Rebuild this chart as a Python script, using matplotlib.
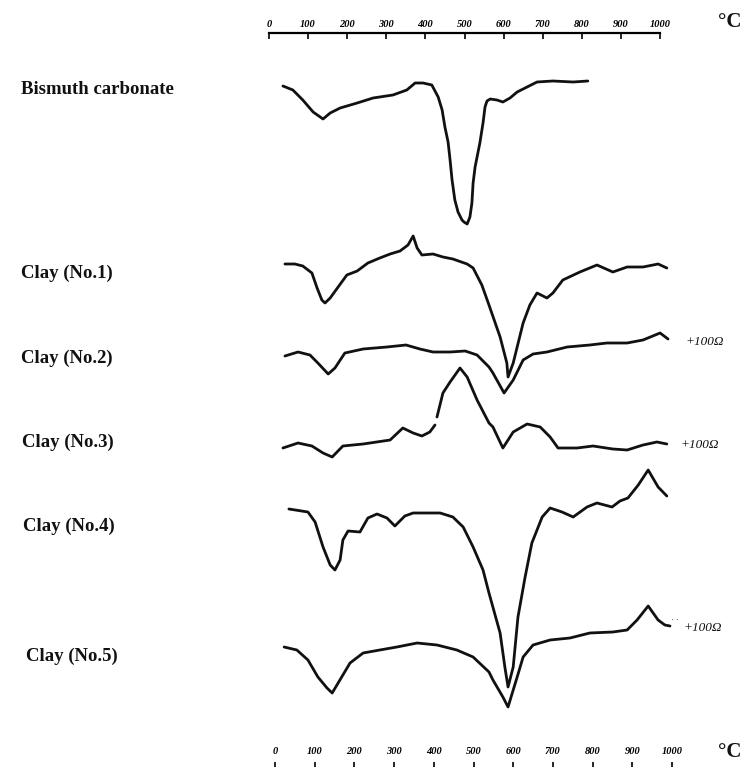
import numpy as np
import matplotlib
matplotlib.use("Agg")
import matplotlib.pyplot as plt

# ---------------- data (temperature in °C, signal in arbitrary deflection units, up = exothermic) -------------
names = ["Bismuth carbonate", "Clay (No.1)", "Clay (No.2)", "Clay (No.3)", "Clay (No.4)", "Clay (No.5)"]

bi_T = [20, 45, 70, 96, 121, 139, 164, 207, 247, 297, 332, 353, 373, 395, 411, 421, 428, 436, 441, 446,
        453, 461, 471, 476, 484, 491, 496, 499, 504, 509, 516, 524, 529, 534, 542, 559, 574, 592, 610,
        635, 660, 700, 751, 788]
bi_S = [0, -4, -14, -26, -33, -27, -22, -17, -12, -9, -4, 3, 3, 1, -11, -24, -41, -56, -74, -94,
        -114, -126, -134, -136, -138, -131, -117, -97, -81, -71, -57, -37, -21, -15, -13, -14, -16, -12, -6,
        -1, 4, 5, 4, 5]

c1_T = [25, 50, 70, 93, 106, 118, 126, 139, 159, 181, 207, 234, 264, 290, 315, 335, 348, 358, 370, 398,
        423, 448, 484, 499, 521, 539, 567, 584, 587, 600, 625, 642, 660, 685, 700, 725, 768, 811, 851,
        887, 927, 965, 987]
c1_S = [0, 0, -2, -9, -24, -36, -39, -34, -23, -11, -7, 1, 6, 10, 13, 19, 28, 16, 9, 10,
        7, 5, 0, -4, -21, -41, -73, -99, -113, -99, -59, -41, -29, -34, -29, -16, -8, -1, -8,
        -3, -3, 0, -4]

c2_T = [25, 58, 88, 108, 134, 151, 176, 222, 282, 330, 365, 398, 441, 479, 509, 539, 549, 577, 600,
        625, 650, 685, 736, 793, 836, 887, 927, 970, 990]
c2_S = [0, 4, 1, -7, -18, -12, 3, 7, 9, 11, 7, 4, 4, 5, 1, -11, -17, -37, -24,
        -4, 2, 4, 9, 11, 13, 13, 16, 23, 17]

c3_T = [20, 58, 93, 121, 144, 171, 222, 290, 322, 348, 370, 390, 403, np.nan, 408, 423, 441, 466, 484,
        509, 539, 549, 574, 600, 635, 668, 693, 713, 761, 801, 851, 887, 927, 962, 987]
c3_S = [0, 5, 2, -5, -9, 2, 4, 8, 20, 15, 12, 16, 23, np.nan, 31, 55, 66, 80, 71,
        48, 25, 21, 0, 16, 24, 21, 11, 0, 0, 2, -1, -2, 3, 6, 4]

c4_T = [35, 83, 101, 121, 139, 151, 164, 171, 184, 214, 234, 257, 282, 302, 327, 348, 416, 448, 474,
        499, 524, 539, 567, 579, 587, 600, 612, 630, 647, 673, 693, 723, 751, 786, 811, 849, 869, 889,
        915, 940, 965, 987]
c4_S = [0, -3, -13, -38, -56, -61, -51, -31, -22, -23, -9, -5, -9, -17, -7, -4, -4, -8, -18,
        -38, -61, -84, -124, -158, -178, -158, -108, -68, -34, -8, 1, -3, -8, 2, 6, 2, 8, 11,
        24, 39, 22, 13]

c5_T = [23, 55, 83, 108, 131, 144, 159, 189, 222, 264, 307, 358, 408, 458, 499, 539, 549, 574, 587,
        610, 625, 650, 693, 743, 793, 851, 887, 912, 940, 965, 982, 995]
c5_S = [0, -3, -13, -30, -41, -46, -36, -16, -6, -3, 0, 4, 2, -3, -10, -25, -33, -50, -60,
        -30, -10, 2, 7, 9, 14, 15, 17, 27, 41, 27, 22, 21]

scale_ticks = [0, 100, 200, 300, 400, 500, 600, 700, 800, 900, 1000]
top_labels = ["0", "100", "200", "300", "400", "500", "600", "700", "800", "900", "1000"]
bottom_labels = ["0", "100", "200", "300", "400", "500", "600", "700", "800", "900", "1000"]
resistor_note = "+100Ω"

curves_T = [bi_T, c1_T, c2_T, c3_T, c4_T, c5_T]
curves_S = [bi_S, c1_S, c2_S, c3_S, c4_S, c5_S]

# ---------------- layout ----------------
W, H = 744, 767
fig = plt.figure(figsize=(W / 100, H / 100), dpi=100)
fig.patch.set_facecolor("white")

# main drawing axes covering the whole figure; x in °C (bottom scale), y in display units (up)
x0_px, px_per_deg = 275.0, 0.397
ax = fig.add_axes([0, 0, 1, 1])
ax.set_xlim(-x0_px / px_per_deg, (W - x0_px) / px_per_deg)
ax.set_ylim(0, H)
ax.axis("off")

baselines = [681, 503, 411, 319, 258, 120]   # vertical offsets of the traces
for T, S, b in zip(curves_T, curves_S, baselines):
    ax.plot(T, np.asarray(S, dtype=float) + b, color="#111111", lw=2.0,
            solid_joinstyle="round", solid_capstyle="round")

serif = ["Liberation Serif", "DejaVu Serif"]
label_pos = [(21, 677), (21, 494), (21, 409), (22, 325), (23, 241), (26, 111)]
for name, (lx, ly) in zip(names, label_pos):
    fig.text(lx / W, ly / H, name, fontsize=13.5, fontweight="bold", family=serif,
             va="center", ha="left", color="#111111")

# resistor notes
note_pos = [(685, 425), (680, 322), (683, 139)]
for nx, ny in note_pos:
    fig.text(nx / W, ny / H, resistor_note, fontsize=9.5, style="italic",
             family=serif, va="center", ha="left", color="#111111")
fig.text(670 / W, 143 / H, "˙˙", fontsize=7, va="center", ha="left", color="#444444")

# top temperature scale
axt = fig.add_axes([269 / W, (H - 40) / H, (660 - 269) / W, 7 / H])
axt.set_xlim(0, 1000)
axt.set_facecolor("none")
for s in ["bottom", "left", "right"]:
    axt.spines[s].set_visible(False)
axt.spines["top"].set_linewidth(1.6)
axt.set_yticks([])
axt.xaxis.set_ticks_position("top")
axt.set_xticks(scale_ticks)
axt.set_xticklabels(top_labels, fontsize=7.5, style="italic", fontweight="bold", family=serif)
axt.tick_params(axis="x", direction="in", length=4, width=1.2, pad=3, labeltop=True, labelbottom=False)
fig.text(718 / W, (H - 22) / H, "°C", fontsize=15, family=serif, fontweight="bold",
         va="center", ha="left", color="#111111")

# bottom temperature scale
axb = fig.add_axes([275 / W, 0, (672 - 275) / W, 5 / H])
axb.set_xlim(0, 1000)
axb.set_facecolor("none")
for s in axb.spines.values():
    s.set_visible(False)
axb.set_yticks([])
axb.xaxis.set_ticks_position("top")
axb.set_xticks(scale_ticks)
axb.set_xticklabels(bottom_labels, fontsize=7.5, style="italic", fontweight="bold", family=serif)
axb.tick_params(axis="x", direction="in", length=5, width=1.2, pad=4, labeltop=True, labelbottom=False)
fig.text(718 / W, 15 / H, "°C", fontsize=15, family=serif, fontweight="bold",
         va="center", ha="left", color="#111111")

fig.savefig("out.png", dpi=100, facecolor="white")
